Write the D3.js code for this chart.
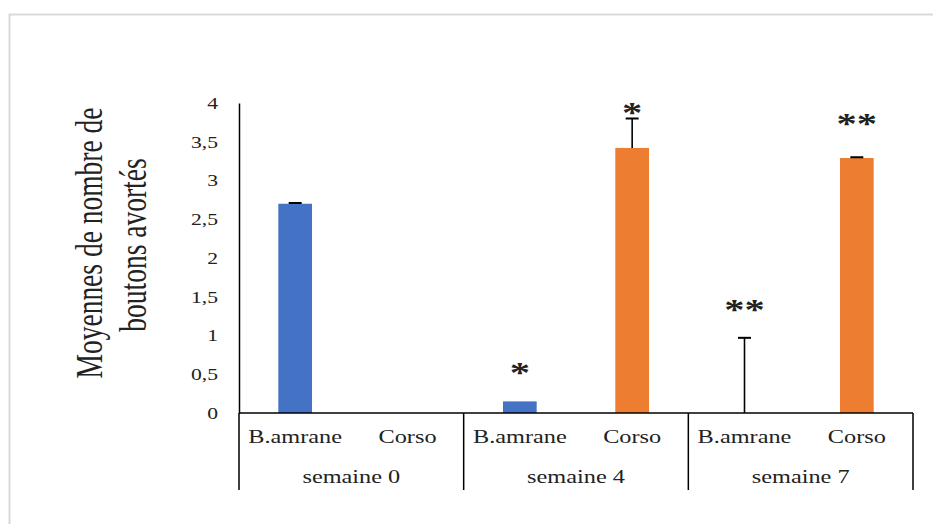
<!DOCTYPE html>
<html lang="fr">
<head>
<meta charset="utf-8" />
<title>Moyennes de nombre de boutons avortés</title>
<script src="https://cdn.jsdelivr.net/npm/d3@7"></script>
<style>
  body { margin: 0; background: #fff; }
  text { font-family: "Liberation Serif", "DejaVu Serif", serif; fill: #222; }
</style>
</head>
<body>
<script>
  /*************************** Data ***************************/
  var weeks = ["semaine 0", "semaine 4", "semaine 7"];
  var varieties = ["B.amrane", "Corso"];
  // means per week, in variety order (B.amrane, Corso)
  var means = [[2.70, 0], [0.15, 3.42], [0, 3.29]];
  // upper error bar (standard error)
  var errors = [[0.01, 0], [0, 0.38], [0.97, 0.01]];
  // significance marks
  var marks = [["", ""], ["*", "*"], ["**", "**"]];
  var yTicks = [0, 0.5, 1, 1.5, 2, 2.5, 3, 3.5, 4];
  var colors = { "B.amrane": "#4472c4", "Corso": "#ed7d31" };

  /*************************** Canvas ***************************/
  var W = 933, H = 524;
  var SX = 1.35; // the source picture is stretched sideways, text included
  var svg = d3.select("body").append("svg").attr("width", W).attr("height", H);

  // chart frame (only top & left edges visible)
  svg.append("rect").attr("x", 9.5).attr("y", 14.5)
    .attr("width", W + 20).attr("height", H + 20)
    .attr("fill", "none").attr("stroke", "#d9d9d9").attr("stroke-width", 2);

  var plotL = 239, plotR = 913, plotT = 103, plotB = 413;

  var y = d3.scaleLinear().domain([0, 4]).range([plotB, plotT]);
  var x0 = d3.scaleBand().domain(weeks).range([plotL, plotR]);
  var x1 = d3.scaleBand().domain(varieties).range([0, x0.bandwidth()]).paddingInner(0.7).paddingOuter(0.35);

  function place(x, yy, extra) {
    return "translate(" + x + "," + yy + ") scale(" + SX + ",1)" + (extra || "");
  }

  /*************************** Axes ***************************/
  var yAxis = d3.axisLeft(y).tickValues(yTicks).tickSize(0).tickPadding(0)
    .tickFormat(function (d) { return String(d).replace(".", ","); });
  var gy = svg.append("g").attr("transform", "translate(" + plotL + ",0)").call(yAxis);
  gy.select(".domain").attr("stroke", "#000").attr("stroke-width", 1.5);
  gy.selectAll(".tick text")
    .attr("x", 0).attr("dy", "0.34em")
    .attr("transform", place(-21, 0))
    .attr("font-size", 16).attr("font-family", "Liberation Serif").attr("fill", "#222");

  svg.append("text")
    .attr("transform", place(102, 243, " rotate(-90)"))
    .attr("text-anchor", "middle").attr("font-size", 27.5)
    .text("Moyennes de nombre de");
  svg.append("text")
    .attr("transform", place(146, 245, " rotate(-90)"))
    .attr("text-anchor", "middle").attr("font-size", 27.5)
    .text("boutons avortés");

  /*************************** Bars ***************************/
  var rows = [];
  weeks.forEach(function (w, i) {
    varieties.forEach(function (v, j) {
      rows.push({ week: w, variety: v, mean: means[i][j], err: errors[i][j], mark: marks[i][j] });
    });
  });

  var g = svg.append("g");
  g.selectAll("rect.bar").data(rows).enter().append("rect")
    .attr("class", "bar")
    .attr("x", function (d) { return x0(d.week) + x1(d.variety); })
    .attr("width", x1.bandwidth())
    .attr("y", function (d) { return y(d.mean); })
    .attr("height", function (d) { return plotB - y(d.mean); })
    .attr("fill", function (d) { return colors[d.variety]; });

  // error bars
  var eb = rows.filter(function (d) { return d.err > 0; });
  var cx = function (d) { return x0(d.week) + x1(d.variety) + x1.bandwidth() / 2; };
  g.selectAll("line.err").data(eb).enter().append("line")
    .attr("x1", cx).attr("x2", cx)
    .attr("y1", function (d) { return y(d.mean); })
    .attr("y2", function (d) { return y(d.mean + d.err); })
    .attr("stroke", "#000").attr("stroke-width", 1.6);
  g.selectAll("line.cap").data(eb).enter().append("line")
    .attr("x1", function (d) { return cx(d) - 6.5; })
    .attr("x2", function (d) { return cx(d) + 6.5; })
    .attr("y1", function (d) { return y(d.mean + d.err); })
    .attr("y2", function (d) { return y(d.mean + d.err); })
    .attr("stroke", "#000").attr("stroke-width", 2);

  // significance stars (Corso week 4 sits on its error bar top, as in the source)
  g.selectAll("text.mark").data(rows.filter(function (d) { return d.mark; })).enter().append("text")
    .attr("transform", function (d) {
      var off = (d.week === "semaine 4" && d.variety === "Corso") ? -3 : 19;
      if (d.week === "semaine 7" && d.variety === "Corso") off = 24;
      return place(cx(d), y(d.mean + d.err) - off);
    })
    .attr("text-anchor", "middle")
    .attr("font-size", 30)
    .attr("font-weight", "bold")
    .attr("font-family", "Liberation Serif")
    .attr("fill", "#111")
    .text(function (d) { return d.mark; });

  /*************************** Category axis ***************************/
  svg.append("line").attr("x1", plotL).attr("x2", plotR).attr("y1", plotB).attr("y2", plotB)
    .attr("stroke", "#000").attr("stroke-width", 1.5);
  var seps = [plotL].concat(weeks.map(function (w) { return x0(w) + x0.bandwidth(); }));
  svg.selectAll("line.sep").data(seps).enter().append("line")
    .attr("x1", function (d) { return d; }).attr("x2", function (d) { return d; })
    .attr("y1", plotB).attr("y2", 490)
    .attr("stroke", "#000").attr("stroke-width", 1.5);

  svg.selectAll("text.sub").data(rows).enter().append("text")
    .attr("transform", function (d) {
      return place(x0(d.week) + x0.bandwidth() * (d.variety === "B.amrane" ? 0.25 : 0.75), 443);
    })
    .attr("text-anchor", "middle").attr("font-size", 18)
    .text(function (d) { return d.variety; });

  svg.selectAll("text.week").data(weeks).enter().append("text")
    .attr("transform", function (d) { return place(x0(d) + x0.bandwidth() / 2, 483); })
    .attr("text-anchor", "middle").attr("font-size", 18)
    .text(function (d) { return d; });
</script>
</body>
</html>
